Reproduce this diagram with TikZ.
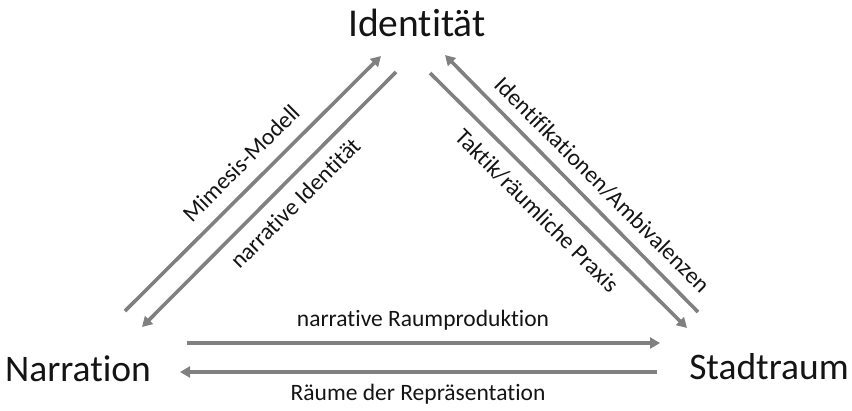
\documentclass[tikz,border=0pt]{standalone}
\usepackage{fontspec}
\setmainfont[Ligatures={NoCommon}]{Carlito}
\usetikzlibrary{arrows.meta}
\definecolor{arrowgray}{RGB}{128,128,128}
\definecolor{txt}{RGB}{20,20,20}
\begin{document}
\begin{tikzpicture}[x=1pt,y=-1pt,
  conn/.style={draw=arrowgray,line width=3.6pt,-{Triangle[length=10pt,width=11pt]}},
  big/.style={font=\fontsize{37.5}{40}\selectfont,text=txt,inner sep=0pt},
  lbl/.style={font=\fontsize{23.5}{26}\selectfont,text=txt,inner sep=0pt}]
\useasboundingbox (0,0) rectangle (852,410);
\node[big,font=\fontsize{39.5}{42}\selectfont] (ident) at (417,23) {Identität};
\node[big] (narr) at (78,369) {Narration};
\node[big] (stadt) at (769,367) {Stadtraum};
% endpoints
\coordinate (m1) at (125,311);
\coordinate (m2) at (381,56);
\coordinate (n1) at (396,72);
\coordinate (n2) at (142,327);
\coordinate (i1) at (698,312);
\coordinate (i2) at (445,55);
\coordinate (t1) at (430,73);
\coordinate (t2) at (687,328);
\coordinate (r1) at (187,343);
\coordinate (r2) at (660,343);
\coordinate (p1) at (657,372);
\coordinate (p2) at (180,372);
\draw[conn] (m1) -- (m2);
\draw[conn] (n1) -- (n2);
\draw[conn] (i1) -- (i2);
\draw[conn] (t1) -- (t2);
\draw[conn] (r1) -- (r2);
\draw[conn] (p1) -- (p2);
\node[lbl,rotate=45] (lm) at (241,163) {Mimesis-Modell};
\node[lbl,rotate=45] (ln) at (295,203) {narrative Identität};
\node[lbl,rotate=-45] (li) at (602,185) {Identifikationen/Ambivalenzen};
\node[lbl,rotate=-45] (lt) at (537,211) {Taktik/räumliche Praxis};
\node[lbl] (lr) at (423,320) {narrative Raumproduktion};
\node[lbl] (lp) at (418,394) {Räume der Repräsentation};
\end{tikzpicture}
\end{document}
